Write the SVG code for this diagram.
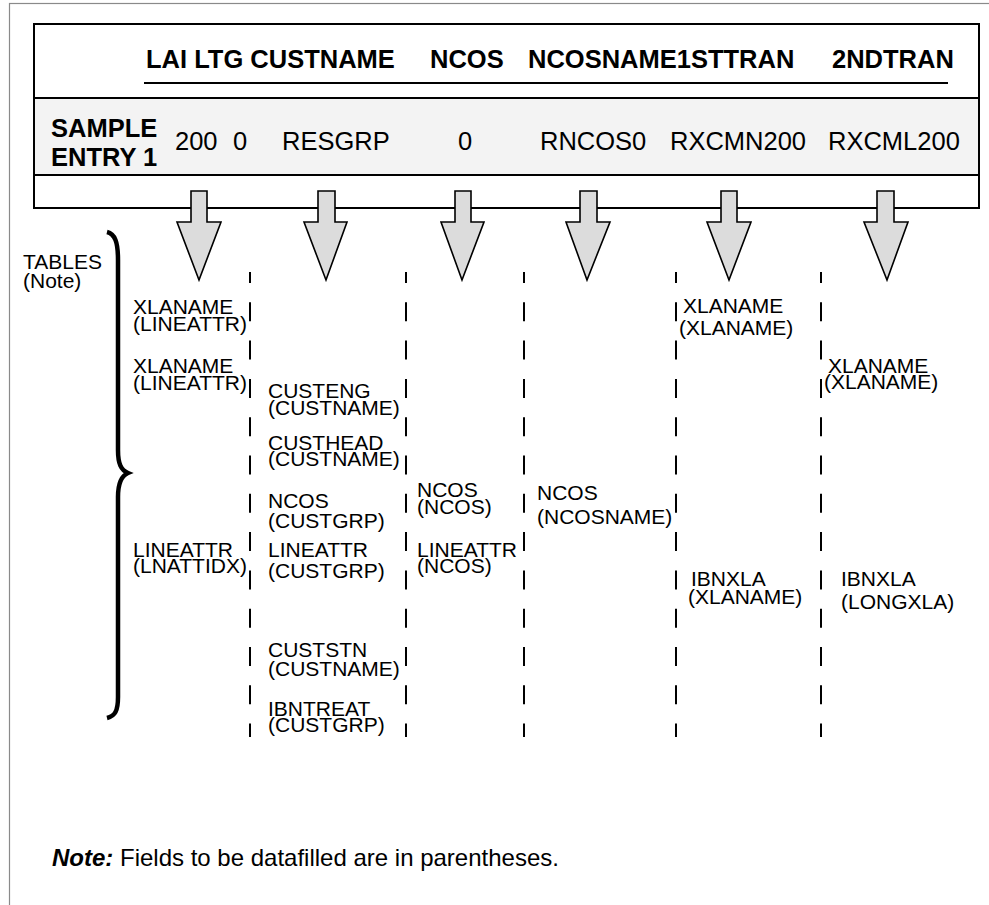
<svg xmlns="http://www.w3.org/2000/svg" width="989" height="905" viewBox="0 0 989 905">
<style>
.hdr{font-family:"Liberation Sans",Arial,sans-serif;font-weight:bold;font-size:25.5px;fill:#000}
.val{font-family:"Liberation Sans",Arial,sans-serif;font-size:25.5px;fill:#000}
.t{font-family:"Liberation Sans",Arial,sans-serif;font-size:21px;fill:#000}
.note{font-family:"Liberation Sans",Arial,sans-serif;font-size:24px;fill:#000}
.box{fill:none;stroke:#000;stroke-width:2}
.arrow{fill:#dcdcdc;stroke:#000;stroke-width:1.6;stroke-linejoin:miter}
.dash{stroke:#000;stroke-width:2;stroke-dasharray:19 19.3;stroke-dashoffset:8;fill:none}
</style>
<rect x="9.5" y="3.5" width="1100" height="1100" fill="#fff" stroke="#8a8a8a" stroke-width="1.2"/>
<g id="entry-table">
<rect x="34" y="98" width="945" height="77" fill="#f3f3f3"/>
<rect class="box" x="34" y="24" width="945" height="184"/>
<line class="box" x1="34" y1="98" x2="979" y2="98"/>
<line class="box" x1="34" y1="175" x2="979" y2="175"/>
<line class="box" x1="144" y1="83" x2="948" y2="83"/>
<text class="hdr" x="146" y="68">LAI LTG CUSTNAME</text>
<text class="hdr" x="430" y="68">NCOS</text>
<text class="hdr" x="528" y="68">NCOSNAME1STTRAN</text>
<text class="hdr" x="832" y="68">2NDTRAN</text>
<text class="hdr" x="51" y="137">SAMPLE</text>
<text class="hdr" x="51" y="166">ENTRY 1</text>
<text class="val" x="175" y="150">200</text>
<text class="val" x="233" y="150">0</text>
<text class="val" x="282" y="150">RESGRP</text>
<text class="val" x="458" y="150">0</text>
<text class="val" x="540" y="150">RNCOS0</text>
<text class="val" x="670" y="150">RXCMN200</text>
<text class="val" x="828" y="150">RXCML200</text>
</g>
<g id="connectors">
<path class="arrow" d="M191,191 H207 V222 H221 L199,280 L177,222 H191 Z"/>
<path class="arrow" d="M318,191 H335 V222 H347 L326,280 L304,222 H318 Z"/>
<path class="arrow" d="M455,191 H471 V222 H484 L462,280 L441,222 H455 Z"/>
<path class="arrow" d="M580,191 H597 V222 H610 L587,280 L566,222 H580 Z"/>
<path class="arrow" d="M721,191 H737 V222 H751 L729,280 L707,222 H721 Z"/>
<path class="arrow" d="M877,191 H894 V222 H908 L887,280 L864,222 H877 Z"/>
</g>
<g id="column-separators">
<line class="dash" x1="250" y1="272" x2="250" y2="737"/>
<line class="dash" x1="406" y1="272" x2="406" y2="737"/>
<line class="dash" x1="524" y1="272" x2="524" y2="737"/>
<line class="dash" x1="676" y1="272" x2="676" y2="737"/>
<line class="dash" x1="821" y1="272" x2="821" y2="737"/>
</g>
<g id="tables-label">
<text class="t" x="23" y="269">TABLES</text>
<text class="t" x="23" y="288">(Note)</text>
<path d="M107,232 C115,234 118,242 118,260 L118,450 C118,464 121,470 128,473 C121,476 118,483 118,497 L118,697 C118,711 115,716 107,718" fill="none" stroke="#000" stroke-width="4.5"/>
</g>
<g id="col-lai">
<text class="t" x="133" y="314">XLANAME</text>
<text class="t" x="133" y="331">(LINEATTR)</text>
<text class="t" x="133" y="373">XLANAME</text>
<text class="t" x="133" y="390">(LINEATTR)</text>
<text class="t" x="133" y="557">LINEATTR</text>
<text class="t" x="133" y="573">(LNATTIDX)</text>
</g>
<g id="col-custname">
<text class="t" x="268" y="398">CUSTENG</text>
<text class="t" x="268" y="415">(CUSTNAME)</text>
<text class="t" x="268" y="450">CUSTHEAD</text>
<text class="t" x="268" y="466">(CUSTNAME)</text>
<text class="t" x="268" y="508">NCOS</text>
<text class="t" x="268" y="528">(CUSTGRP)</text>
<text class="t" x="268" y="557">LINEATTR</text>
<text class="t" x="268" y="578">(CUSTGRP)</text>
<text class="t" x="268" y="657">CUSTSTN</text>
<text class="t" x="268" y="676">(CUSTNAME)</text>
<text class="t" x="268" y="716">IBNTREAT</text>
<text class="t" x="268" y="732">(CUSTGRP)</text>
</g>
<g id="col-ncos">
<text class="t" x="417" y="497">NCOS</text>
<text class="t" x="417" y="514">(NCOS)</text>
<text class="t" x="417" y="557">LINEATTR</text>
<text class="t" x="417" y="573">(NCOS)</text>
</g>
<g id="col-ncosname">
<text class="t" x="537" y="500">NCOS</text>
<text class="t" x="537" y="524">(NCOSNAME)</text>
</g>
<g id="col-1sttran">
<text class="t" x="683" y="313">XLANAME</text>
<text class="t" x="679" y="335">(XLANAME)</text>
<text class="t" x="691" y="586">IBNXLA</text>
<text class="t" x="688" y="604">(XLANAME)</text>
</g>
<g id="col-2ndtran">
<text class="t" x="828" y="373">XLANAME</text>
<text class="t" x="824" y="389">(XLANAME)</text>
<text class="t" x="841" y="586">IBNXLA</text>
<text class="t" x="841" y="609">(LONGXLA)</text>
</g>
<g id="note">
<text class="note" x="52" y="866"><tspan font-weight="bold" font-style="italic">Note:</tspan> Fields to be datafilled are in parentheses.</text>
</g>
</svg>
